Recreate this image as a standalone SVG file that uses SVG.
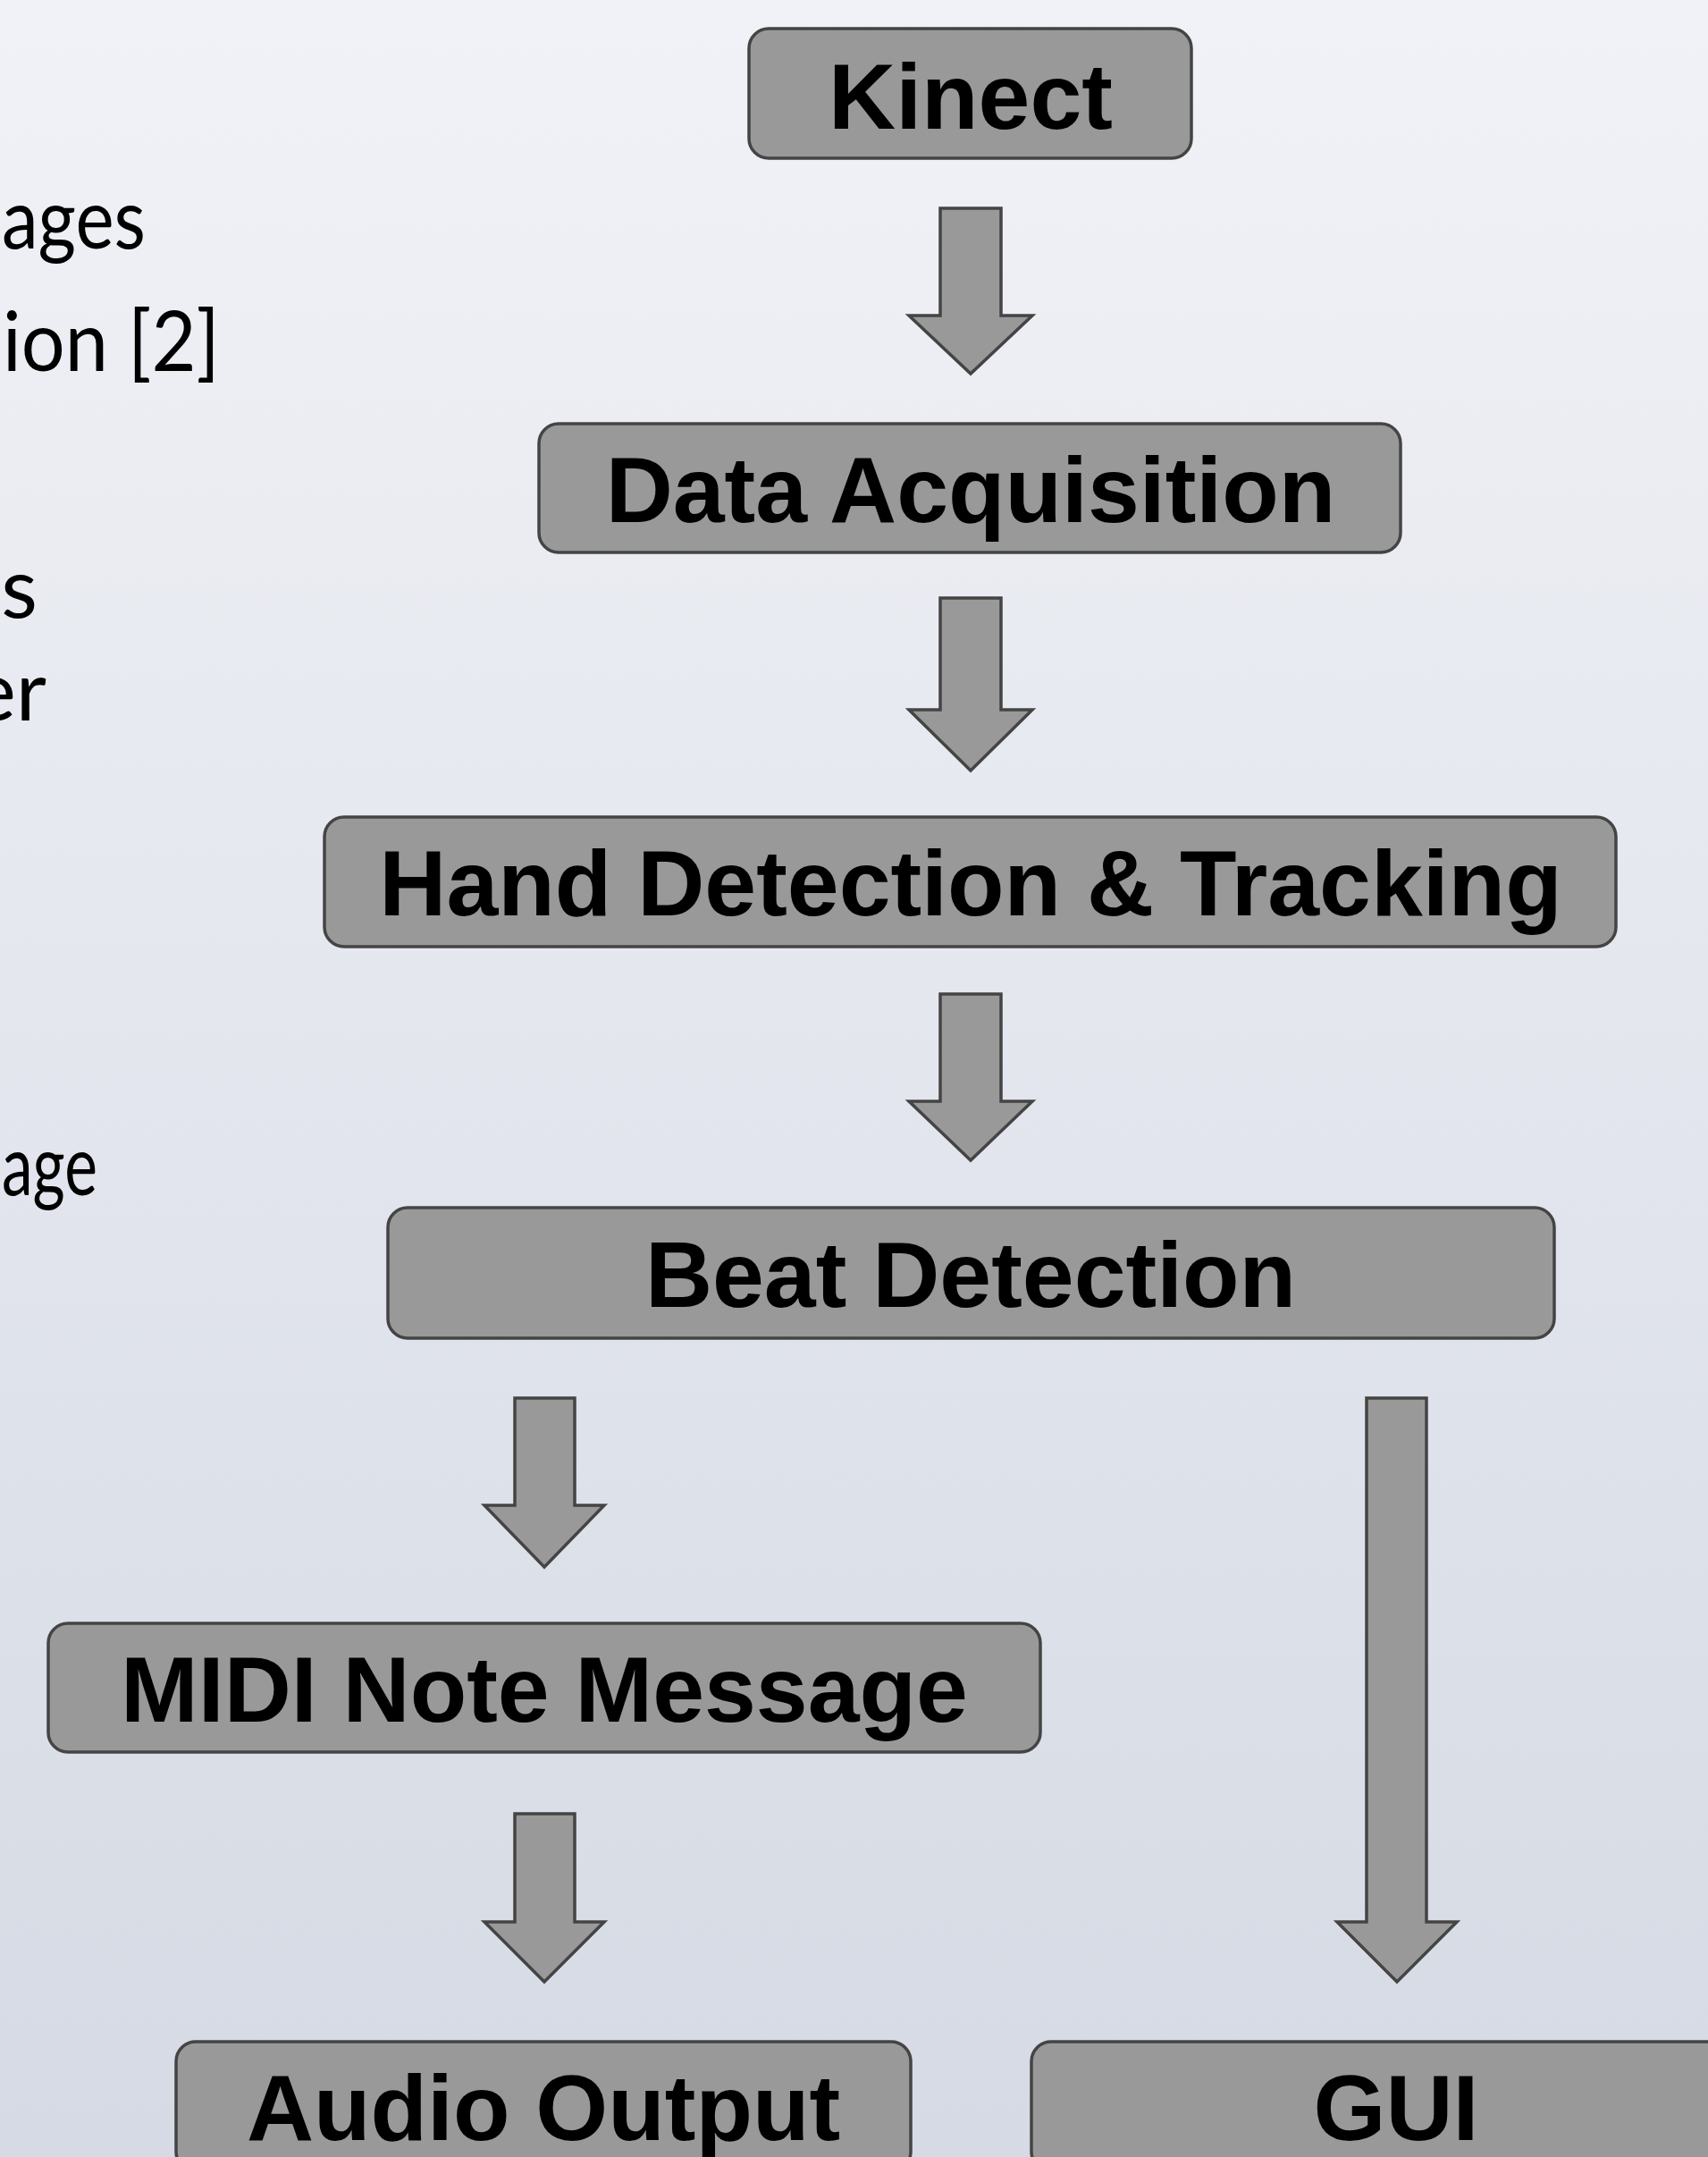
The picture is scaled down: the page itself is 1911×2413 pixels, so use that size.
<svg xmlns="http://www.w3.org/2000/svg" width="1911" height="2413" viewBox="0 0 1911 2413">
  <defs>
    <linearGradient id="bg" x1="0" y1="0" x2="0" y2="1">
      <stop offset="0" stop-color="#f1f2f7"/>
      <stop offset="1" stop-color="#d5dae4"/>
    </linearGradient>
    <style>
      .box { fill: #999999; stroke: #444444; stroke-width: 3.5; }
      .lbl { font-family: "Liberation Sans", Arial, sans-serif; font-weight: bold; font-size: 104px; fill: #000000; text-anchor: middle; }
      .arrow { fill: #999999; stroke: #444444; stroke-width: 3.5; stroke-linejoin: miter; }
      .side { font-family: Lato, "Noto Sans", sans-serif; font-size: 94px; fill: #000000; text-anchor: start; }
      .side-end { font-family: Lato, "Noto Sans", sans-serif; font-size: 94px; fill: #000000; text-anchor: end; }
    </style>
  </defs>
  <rect x="0" y="0" width="1911" height="2413" fill="url(#bg)"/>

  <g id="side-text">
    <text class="side" x="2" y="278" textLength="161" lengthAdjust="spacingAndGlyphs">ages</text>
    <text class="side" x="3" y="415" textLength="243" lengthAdjust="spacingAndGlyphs">ion [2]</text>
    <text class="side-end" x="42" y="691">es</text>
    <text class="side-end" x="52" y="806">er</text>
    <text class="side" x="2" y="1337" textLength="107" lengthAdjust="spacingAndGlyphs">age</text>
  </g>

  <g id="connectors">
    <polygon class="arrow" points="1052,233 1120,233 1120,353 1155,353 1086,418 1017,353 1052,353"/>
    <polygon class="arrow" points="1052,669 1120,669 1120,794 1155,794 1086,862 1017,794 1052,794"/>
    <polygon class="arrow" points="1052,1112 1120,1112 1120,1232 1155,1232 1086,1298 1017,1232 1052,1232"/>
    <polygon class="arrow" points="576,1564 643,1564 643,1684 676,1684 609,1753 542,1684 576,1684"/>
    <polygon class="arrow" points="1529,1564 1596,1564 1596,2150 1630,2150 1563,2217 1496,2150 1529,2150"/>
    <polygon class="arrow" points="576,2029 643,2029 643,2150 676,2150 609,2217 542,2150 576,2150"/>
  </g>

  <g id="kinect">
    <rect class="box" x="838" y="32" width="495" height="145" rx="22" ry="22"/>
    <text class="lbl" x="1086" y="144">Kinect</text>
  </g>
  <g id="data-acquisition">
    <rect class="box" x="603" y="474" width="964" height="144" rx="22" ry="22"/>
    <text class="lbl" x="1086" y="584">Data Acquisition</text>
  </g>
  <g id="hand-detection">
    <rect class="box" x="363" y="914" width="1445" height="145" rx="22" ry="22"/>
    <text class="lbl" x="1086" y="1024">Hand Detection &amp; Tracking</text>
  </g>
  <g id="beat-detection">
    <rect class="box" x="434" y="1351" width="1305" height="146" rx="22" ry="22"/>
    <text class="lbl" x="1086" y="1462">Beat Detection</text>
  </g>
  <g id="midi-note-message">
    <rect class="box" x="54" y="1816" width="1110" height="144" rx="22" ry="22"/>
    <text class="lbl" x="609" y="1926">MIDI Note Message</text>
  </g>
  <g id="audio-output">
    <rect class="box" x="197" y="2284" width="822" height="145" rx="22" ry="22"/>
    <text class="lbl" x="608" y="2394">Audio Output</text>
  </g>
  <g id="gui">
    <rect class="box" x="1154" y="2284" width="816" height="145" rx="22" ry="22"/>
    <text class="lbl" x="1562" y="2394">GUI</text>
  </g>
</svg>
